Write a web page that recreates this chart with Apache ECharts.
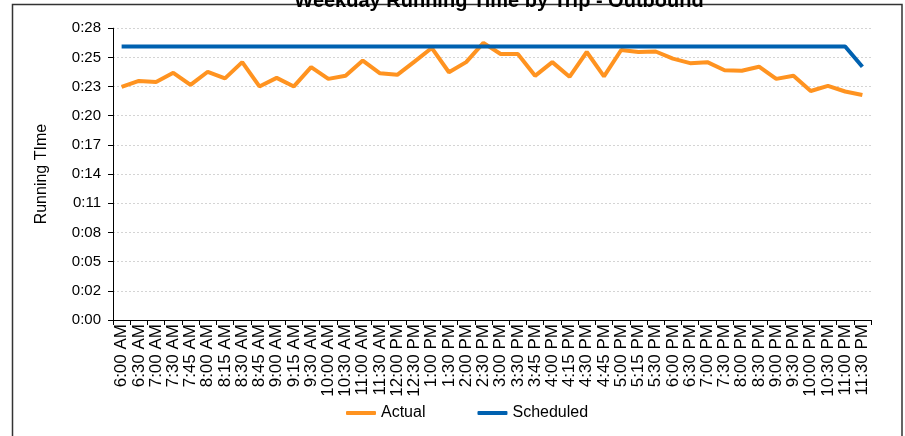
<!DOCTYPE html>
<html>
<head>
<meta charset="utf-8">
<script src="https://cdn.jsdelivr.net/npm/echarts@6/dist/echarts.min.js"></script>
<style>
html,body{margin:0;padding:0;background:#fff;}
#chart{width:905px;height:436px;}
</style>
</head>
<body>
<div id="chart"></div>
<script>
// Trip start times (categories)
var categories = ["6:00 AM","6:30 AM","7:00 AM","7:30 AM","7:45 AM","8:00 AM","8:15 AM","8:30 AM","8:45 AM","9:00 AM","9:15 AM","9:30 AM","10:00 AM","10:30 AM","11:00 AM","11:30 AM","12:00 PM","12:30 PM","1:00 PM","1:30 PM","2:00 PM","2:30 PM","3:00 PM","3:30 PM","3:45 PM","4:00 PM","4:15 PM","4:30 PM","4:45 PM","5:00 PM","5:15 PM","5:30 PM","6:00 PM","6:30 PM","7:00 PM","7:30 PM","8:00 PM","8:30 PM","9:00 PM","9:30 PM","10:00 PM","10:30 PM","11:00 PM","11:30 PM"];
// Running times in minutes
var actual = [23.0,23.6,23.5,24.4,23.2,24.5,23.85,25.45,23.05,23.9,23.05,24.95,23.8,24.1,25.6,24.35,24.2,25.5,26.85,24.45,25.45,27.35,26.25,26.25,24.1,25.45,24.0,26.45,24.05,26.65,26.45,26.5,25.8,25.35,25.45,24.65,24.6,25.0,23.8,24.1,22.6,23.1,22.55,22.2];
var scheduled = [27,27,27,27,27,27,27,27,27,27,27,27,27,27,27,27,27,27,27,27,27,27,27,27,27,27,27,27,27,27,27,27,27,27,27,27,27,27,27,27,27,27,27,25];
// Y axis: ticks every 0.002 day (2.88 min), labels shown as h:mm
var yMin = 0, yMax = 28.8, yInterval = 2.88;

function fmtTime(v){
  var t = Math.floor(v + 1e-6);
  var h = Math.floor(t/60), m = t % 60;
  return h + ':' + (m < 10 ? '0' + m : m);
}

var chart = echarts.init(document.getElementById('chart'));
var font = '"Liberation Sans", Arial, sans-serif';
chart.setOption({
  animation: false,
  backgroundColor: '#fff',
  graphic: [{
    type: 'rect', z: 0, silent: true,
    shape: {x: 12.5, y: 4.5, width: 889.5, height: 440},
    style: {fill: 'none', stroke: '#333', lineWidth: 1.5}
  }],
  title: {
    text: 'Weekday Running Time by Trip - Outbound',
    left: 494, top: -14, textAlign: 'center', z: 10,
    textStyle: {fontFamily: font, fontSize: 20, fontWeight: 'bold', color: '#000'}
  },
  grid: {left: 113, right: 34, top: 28.2, bottom: 116},
  legend: {
    left: 346, top: 405, padding: 0,
    itemWidth: 30, itemHeight: 4, itemGap: 52,
    icon: 'roundRect',
    textStyle: {fontFamily: font, fontSize: 16, color: '#000'},
    data: ['Actual', 'Scheduled']
  },
  xAxis: {
    type: 'category',
    data: categories,
    boundaryGap: true,
    axisLine: {lineStyle: {color: '#000', width: 1}},
    axisTick: {show: true, length: 5, lineStyle: {color: '#000'}},
    axisLabel: {rotate: 90, margin: 4, interval: 0, fontFamily: font, fontSize: 17, color: '#000'},
    splitLine: {show: false}
  },
  yAxis: {
    type: 'value',
    min: yMin, max: yMax, interval: yInterval,
    name: 'Running TIme',
    nameLocation: 'middle',
    nameGap: 63,
    nameTextStyle: {fontFamily: font, fontSize: 16, color: '#000'},
    axisLine: {show: true, lineStyle: {color: '#000', width: 1}},
    axisTick: {show: true, length: 5, lineStyle: {color: '#000'}},
    axisLabel: {margin: 12, fontFamily: font, fontSize: 15, color: '#000', formatter: fmtTime},
    splitLine: {show: true, lineStyle: {color: '#d4d4d4', type: [2, 2], width: 1}}
  },
  series: [{
    name: 'Actual', type: 'line', data: actual,
    symbol: 'none', smooth: false,
    lineStyle: {color: '#FF9320', width: 4},
    itemStyle: {color: '#FF9320'}
  }, {
    name: 'Scheduled', type: 'line', data: scheduled,
    symbol: 'none', smooth: false,
    lineStyle: {color: '#0061B0', width: 4},
    itemStyle: {color: '#0061B0'}
  }]
});
</script>
</body>
</html>
